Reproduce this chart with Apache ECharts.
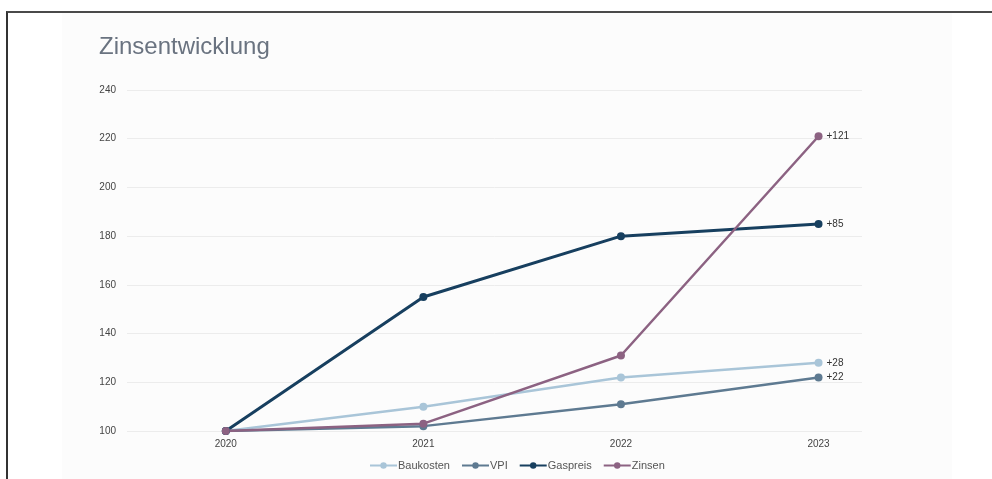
<!DOCTYPE html>
<html>
<head>
<meta charset="utf-8">
<script src="https://cdn.jsdelivr.net/npm/echarts@6/dist/echarts.min.js"></script>
<style>
  html, body { margin: 0; padding: 0; background: #fff; }
  #main { width: 992px; height: 479px; }
  #frame { position: absolute; left: 6px; top: 11px; right: -10px; bottom: -10px;
           border-top: 2px solid #4a4a4a; border-left: 2px solid #333; pointer-events: none; }
</style>
</head>
<body>
<div id="main"></div>
<div id="frame"></div>
<script>
// Jahre und Indexwerte (2020 = 100)
const years = [2020, 2021, 2022, 2023];
const baukosten = [100, 110, 122, 128];
const vpi = [100, 102, 111, 122];
const gaspreis = [100, 155, 180, 185];
const zinsen = [100, 103, 131, 221];
const endLabels = ['+28', '+22', '+85', '+121'];
const yTicks = [100, 120, 140, 160, 180, 200, 220, 240];

const seriesDefs = [
  { name: 'Baukosten', values: baukosten, color: '#a9c5d8', width: 2.5 },
  { name: 'VPI', values: vpi, color: '#5e7a91', width: 2.5 },
  { name: 'Gaspreis', values: gaspreis, color: '#173f5f', width: 3 },
  { name: 'Zinsen', values: zinsen, color: '#8c6282', width: 2.5 }
];

let myChart = echarts.init(document.getElementById('main'));

myChart.setOption({
  textStyle: { fontFamily: 'Liberation Sans, Arial, sans-serif' },
  title: {
    text: 'Zinsentwicklung',
    left: 94,
    top: 30,
    textStyle: { fontSize: 24, fontWeight: 'normal', color: '#6a7380' }
  },
  graphic: [{
    type: 'rect',
    shape: { x: 62, y: 13, width: 890, height: 470 },
    style: { fill: '#fcfcfc' },
    z: -10
  }],
  legend: {
    bottom: 3,
    left: 364,
    itemWidth: 27,
    itemHeight: 8,
    itemGap: 11,
    textStyle: { fontSize: 11, color: '#555', padding: [0, 0, 0, -4] },
    data: seriesDefs.map(s => s.name)
  },
  grid: {
    left: 127,
    right: 130,
    top: 90,
    bottom: 48
  },
  xAxis: {
    type: 'value',
    min: 2019.5,
    max: 2023.22,
    axisLine: { show: false },
    axisTick: { show: false },
    splitLine: { show: false },
    axisLabel: {
      customValues: years,
      fontSize: 10,
      color: '#444',
      margin: 8,
      formatter: v => String(v)
    }
  },
  yAxis: {
    type: 'value',
    min: 100,
    max: 240,
    interval: 20,
    axisLine: { show: false },
    axisTick: { show: false },
    axisLabel: {
      fontSize: 10,
      color: '#444',
      margin: 11,
      formatter: v => (yTicks.indexOf(v) >= 0 ? String(v) : '')
    },
    splitLine: { lineStyle: { color: '#ececec', width: 1 } }
  },
  series: seriesDefs.map((s, i) => ({
    name: s.name,
    type: 'line',
    data: years.map((y, k) => [y, s.values[k]]),
    symbol: 'circle',
    symbolSize: 8,
    color: s.color,
    lineStyle: { width: s.width, color: s.color },
    itemStyle: { color: s.color },
    endLabel: {
      show: true,
      formatter: endLabels[i],
      fontSize: 10,
      color: '#333',
      distance: 8
    },
    animation: false
  }))
});
</script>
</body>
</html>
